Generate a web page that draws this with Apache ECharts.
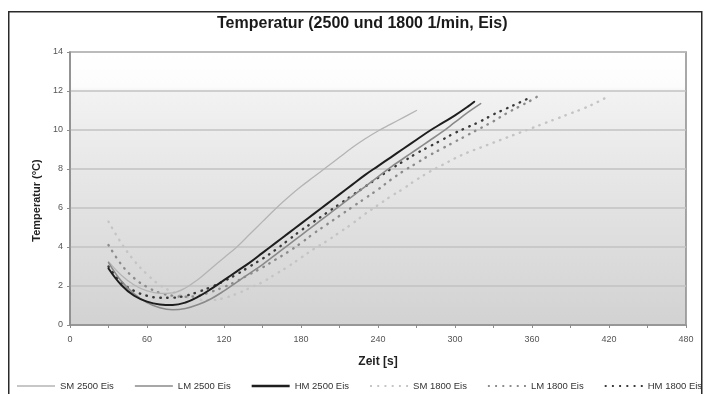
<!DOCTYPE html>
<html>
<head>
<meta charset="utf-8">
<script src="https://cdn.jsdelivr.net/npm/echarts@6/dist/echarts.min.js"></script>
<style>
html,body{margin:0;padding:0;background:#fff;}
#c{width:704px;height:394px;}
</style>
</head>
<body>
<div id="c"></div>
<script>
const titleText = 'Temperatur (2500 und 1800 1/min, Eis)';
const xName = 'Zeit [s]';
const yName = 'Temperatur (°C)';
const seriesNames = ['SM 2500 Eis', 'LM 2500 Eis', 'HM 2500 Eis', 'SM 1800 Eis', 'LM 1800 Eis', 'HM 1800 Eis'];

const sm2500T = [30,40,50,60,70,80,90,100,110,120,130,140,150,160,170,180,190,200,210,220,230,240,250,260,270];
const sm2500Y = [3.25,2.55,2.05,1.75,1.62,1.65,1.9,2.35,2.9,3.45,4.0,4.65,5.3,5.95,6.55,7.1,7.6,8.1,8.6,9.1,9.55,9.95,10.3,10.65,11.0];

const lm2500T = [30,40,50,60,70,80,90,100,110,120,130,140,150,160,170,180,190,200,210,220,230,240,250,260,270,280,290,300,310,320];
const lm2500Y = [3.2,2.25,1.6,1.15,0.88,0.78,0.85,1.05,1.35,1.75,2.2,2.65,3.1,3.6,4.1,4.6,5.1,5.6,6.1,6.6,7.1,7.6,8.1,8.55,9.0,9.45,9.9,10.4,10.9,11.35];

const hm2500T = [30,40,50,60,70,80,90,100,110,120,130,140,150,160,170,180,190,200,210,220,230,240,250,260,270,280,290,300,310,315];
const hm2500Y = [2.9,2.05,1.5,1.2,1.05,1.02,1.15,1.45,1.85,2.3,2.75,3.2,3.7,4.2,4.7,5.2,5.7,6.2,6.7,7.2,7.7,8.15,8.6,9.05,9.5,9.95,10.35,10.75,11.2,11.45];

const sm1800T = [30,40,50,60,70,80,90,100,110,120,130,140,150,160,170,180,190,200,210,220,230,240,250,260,270,280,290,300,310,320,330,340,350,360,370,380,390,400,410,420];
const sm1800Y = [5.3,4.2,3.3,2.6,2.05,1.7,1.45,1.3,1.28,1.38,1.6,1.9,2.2,2.6,3.0,3.45,3.9,4.3,4.75,5.2,5.7,6.15,6.6,7.0,7.45,7.85,8.2,8.55,8.85,9.1,9.35,9.6,9.85,10.1,10.35,10.6,10.85,11.1,11.4,11.75];

const lm1800T = [30,40,50,60,70,80,90,100,110,120,130,140,150,160,170,180,190,200,210,220,230,240,250,260,270,280,290,300,310,320,330,340,350,360,366];
const lm1800Y = [4.1,3.1,2.4,1.95,1.65,1.5,1.45,1.5,1.7,1.95,2.25,2.6,2.95,3.35,3.75,4.2,4.7,5.15,5.6,6.05,6.5,6.95,7.45,7.9,8.3,8.7,9.05,9.4,9.75,10.1,10.45,10.85,11.2,11.55,11.8];

const hm1800T = [30,40,50,60,70,80,90,100,110,120,130,140,150,160,170,180,190,200,210,220,230,240,250,260,270,280,290,300,310,320,330,340,350,358];
const hm1800Y = [3.0,2.2,1.75,1.5,1.4,1.4,1.5,1.7,1.95,2.25,2.6,3.0,3.4,3.85,4.35,4.85,5.3,5.75,6.2,6.65,7.1,7.55,8.0,8.4,8.8,9.15,9.5,9.85,10.15,10.45,10.8,11.1,11.4,11.65];

const xMin = 0, xMax = 480, xStep = 30, xLabelStep = 60;
const yMin = 0, yMax = 14, yStep = 2;

function zip(t, y){ return t.map((v,i)=>[v, y[i]]); }

const solidIcon = 'path://M0,0H40V1.6H0Z';
let dots = '';
for (let k = 0; k < 6; k++) { const x = k * 7.6; dots += 'M' + x + ',0h2v2h-2Z'; }
const dottedIcon = 'path://' + dots;

const styles = [
  {color:'#b4b4b4', width:1.3, type:'solid', icon:solidIcon},
  {color:'#8a8a8a', width:1.6, type:'solid', icon:solidIcon},
  {color:'#1e1e1e', width:2.0, type:'solid', icon:'path://M0,0H40V2.6H0Z'},
  {color:'#c4c4c4', width:2.4, type:[0.5,6.5], icon:dottedIcon},
  {color:'#8c8c8c', width:2.4, type:[0.5,6.5], icon:dottedIcon},
  {color:'#3a3a3a', width:2.4, type:[0.5,6.5], icon:dottedIcon}
];
const datasets = [zip(sm2500T,sm2500Y), zip(lm2500T,lm2500Y), zip(hm2500T,hm2500Y),
                  zip(sm1800T,sm1800Y), zip(lm1800T,lm1800Y), zip(hm1800T,hm1800Y)];

const chart = echarts.init(document.getElementById('c'), null, {renderer:'canvas'});
const fontFam = '"Liberation Sans", Arial, sans-serif';
chart.setOption({
  animation:false,
  backgroundColor:'#ffffff',
  textStyle:{fontFamily:fontFam},
  title:{
    text:titleText, left:212, top:11,
    textStyle:{fontSize:16, fontWeight:'bold', color:'#1a1a1a', fontFamily:fontFam}
  },
  graphic:[{
    type:'rect', left:8, top:11, z:-1, silent:true,
    shape:{width:693, height:400},
    style:{fill:'transparent', stroke:'#2a2a2a', lineWidth:1.5}
  }],
  legend:{
    left:12, top:376, width:900,
    itemWidth:38, itemHeight:10, itemGap:21,
    textStyle:{fontSize:9.5, color:'#333', fontFamily:fontFam},
    data:seriesNames.map((n,i)=>({name:n, icon:styles[i].icon}))
  },
  grid:{
    left:70, right:18, top:52, bottom:69, show:true,
    borderColor:'#8c8c8c', borderWidth:1.5,
    backgroundColor:{type:'linear', x:0, y:0, x2:0, y2:1, colorStops:[
      {offset:0, color:'#ffffff'}, {offset:0.13, color:'#fcfcfc'},
      {offset:0.15, color:'#f2f2f2'}, {offset:1, color:'#d2d2d2'}]}
  },
  xAxis:{
    type:'value', min:xMin, max:xMax, interval:xStep,
    name:xName, nameLocation:'middle', nameGap:31,
    nameTextStyle:{fontSize:12, fontWeight:'bold', color:'#222'},
    axisLine:{show:true, lineStyle:{color:'#8c8c8c', width:1.5}},
    axisTick:{show:true, length:3, lineStyle:{color:'#8c8c8c'}},
    axisLabel:{fontSize:9, color:'#555', margin:10,
      formatter:v => (v % xLabelStep === 0 ? String(v) : '')},
    splitLine:{show:false}
  },
  yAxis:{
    type:'value', min:yMin, max:yMax, interval:yStep,
    name:yName, nameLocation:'middle', nameGap:27,
    nameTextStyle:{fontSize:11, fontWeight:'bold', color:'#222', padding:[0,0,0,-24]},
    axisLine:{show:true, lineStyle:{color:'#8c8c8c', width:1.5}},
    axisTick:{show:true, length:3, lineStyle:{color:'#8c8c8c'}},
    axisLabel:{fontSize:9, color:'#555', margin:7},
    splitLine:{show:true, lineStyle:{color:'#c2c2c2', width:1.6}}
  },
  series: seriesNames.map((n,i)=>({
    name:n, type:'line', data:datasets[i], smooth:0.4,
    showSymbol:false, symbol:'none',
    lineStyle:{color:styles[i].color, width:styles[i].width, type:styles[i].type, cap:'round'},
    itemStyle:{color:styles[i].color},
    z: 3 + (i<3 ? 1 : 0)
  }))
});
</script>
</body>
</html>
